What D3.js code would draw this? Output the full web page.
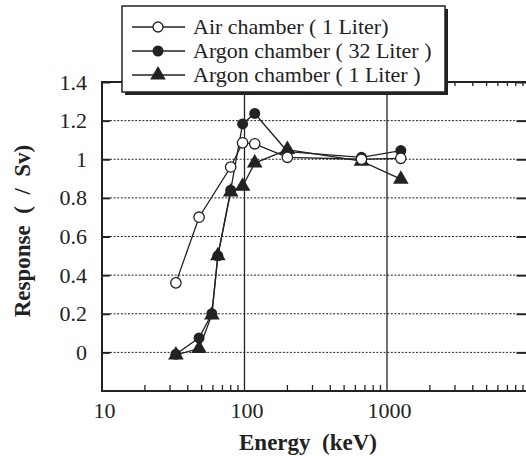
<!DOCTYPE html>
<html><head><meta charset="utf-8">
<script src="https://cdn.jsdelivr.net/npm/d3@7"></script>
</head>
<body style="margin:0">
<svg id="chart" width="526" height="456" font-family="Liberation Serif"></svg>
<script>
// ---- data ----
const seriesNames = ["Air chamber ( 1 Liter)", "Argon chamber ( 32 Liter )", "Argon chamber ( 1 Liter )"];
const energyAir  = [33, 48, 80, 97, 118, 200, 662, 1250];
const respAir    = [0.36, 0.70, 0.96, 1.085, 1.08, 1.01, 1.0, 1.005];
const energyAr32 = [33, 48, 59, 65, 80, 97, 118, 200, 662, 1250];
const respAr32   = [-0.01, 0.075, 0.2, 0.5, 0.84, 1.183, 1.237, 1.04, 1.01, 1.045];
const energyAr1  = [33, 48, 59, 65, 80, 97, 118, 200, 662, 1250];
const respAr1    = [-0.013, 0.02, 0.194, 0.50, 0.83, 0.86, 0.98, 1.05, 0.99, 0.897];
const yTicks = [0, 0.2, 0.4, 0.6, 0.8, 1, 1.2, 1.4];
const yGrid = [0, 0.2, 0.4, 0.6, 0.8, 1, 1.2];
const xLabelTicks = [10, 100, 1000];
const xTitle = "Energy\u00a0\u00a0(keV)";
const yTitle = "Response\u00a0\u00a0(\u00a0\u00a0/\u00a0\u00a0Sv)";

// ---- layout ----
const svg = d3.select("#chart");
svg.append("rect").attr("width",526).attr("height",456).attr("fill","#fff");
const x = d3.scaleLog().domain([10, 10000]).range([102, 529.5]);
const y = d3.scaleLinear().domain([-0.2, 1.4]).range([391, 82]);
const ink = "#222";
const X0 = x.range()[0], X1 = x.range()[1], Y0 = y.range()[0], Y1 = y.range()[1];

function serif(sel, size, bold) {
  sel.style("font-family", "'Liberation Serif'").style("font-size", size + "px").attr("fill", ink);
  if (bold) sel.style("font-weight", "bold");
  return sel;
}

// dotted horizontal grid
svg.append("g").selectAll("line").data(yGrid).join("line")
  .attr("x1", X0+8).attr("x2", X1-13)
  .attr("y1", d=>y(d)).attr("y2", d=>y(d))
  .attr("stroke", ink).attr("stroke-width", 1).attr("stroke-dasharray","2,1.6");

// solid vertical grid at decades
svg.append("g").selectAll("line").data([100,1000]).join("line")
  .attr("x1", d=>x(d)).attr("x2", d=>x(d)).attr("y1", Y1).attr("y2", Y0)
  .attr("stroke", ink).attr("stroke-width", 1.3);

// minor ticks bottom & top
const minor = x.ticks().filter(d => Math.abs(Math.log10(d) - Math.round(Math.log10(d))) > 1e-6);
svg.append("g").selectAll("line").data(minor).join("line")
  .attr("x1", d=>x(d)).attr("x2", d=>x(d)).attr("y1", Y0).attr("y2", Y0-6)
  .attr("stroke", ink).attr("stroke-width", 1.3);
svg.append("g").selectAll("line").data(minor).join("line")
  .attr("x1", d=>x(d)).attr("x2", d=>x(d)).attr("y1", Y1).attr("y2", Y1+4)
  .attr("stroke", ink).attr("stroke-width", 1.3);

// left axis
const gl = svg.append("g").attr("transform", `translate(${X0},0)`)
  .call(d3.axisLeft(y).tickValues(yTicks).tickSize(-8).tickPadding(15)
        .tickFormat(d => d3.format("~g")(d)));
gl.select(".domain").remove();
gl.attr("font-family", "Liberation Serif").attr("font-size", 22);
gl.selectAll(".tick line").attr("stroke", ink).attr("stroke-width", 2);
serif(gl.selectAll(".tick text"), 22, false);

// right axis ticks
const gr = svg.append("g").attr("transform", `translate(${X1},0)`)
  .call(d3.axisRight(y).tickValues(yTicks).tickSize(-13).tickFormat(""));
gr.select(".domain").remove();
gr.selectAll(".tick line").attr("stroke", ink).attr("stroke-width", 2);

// bottom axis labels
const gb = svg.append("g").attr("transform", `translate(0,${Y0})`)
  .call(d3.axisBottom(x).tickValues(xLabelTicks).tickSize(0).tickPadding(11).tickFormat(d3.format("d")));
gb.select(".domain").remove();
gb.attr("font-family", "Liberation Serif").attr("font-size", 22);
serif(gb.selectAll(".tick text"), 22, false).attr("dx", 2);

// frame
svg.append("rect").attr("x", X0).attr("y", Y1).attr("width", X1-X0).attr("height", Y0-Y1)
  .attr("fill","none").attr("stroke", ink).attr("stroke-width", 2);

// series
const line = d3.line().x(d=>x(d[0])).y(d=>y(d[1]));
const sAir  = energyAir.map((e,i)=>[e, respAir[i]]);
const sAr32 = energyAr32.map((e,i)=>[e, respAr32[i]]);
const sAr1  = energyAr1.map((e,i)=>[e, respAr1[i]]);
[sAir, sAr32, sAr1].forEach(s => {
  svg.append("path").datum(s).attr("d", line).attr("fill","none")
    .attr("stroke", ink).attr("stroke-width", 1.3);
});
const tri = d3.symbol().type(d3.symbolTriangle).size(105);
svg.append("g").selectAll("path").data(sAr1).join("path")
  .attr("d", tri).attr("transform", d=>`translate(${x(d[0])},${y(d[1])})`).attr("fill", ink);
svg.append("g").selectAll("circle").data(sAr32).join("circle")
  .attr("cx", d=>x(d[0])).attr("cy", d=>y(d[1])).attr("r", 5.5).attr("fill", ink);
svg.append("g").selectAll("circle").data(sAir).join("circle")
  .attr("cx", d=>x(d[0])).attr("cy", d=>y(d[1])).attr("r", 5.2)
  .attr("fill", "#fff").attr("stroke", ink).attr("stroke-width", 1.3);

// titles
serif(svg.append("text").attr("x", 308).attr("y", 450).attr("text-anchor","middle"), 23, true).text(xTitle);
serif(svg.append("text").attr("transform","translate(30,231) rotate(-90)").attr("text-anchor","middle"), 23, true).text(yTitle);

// legend
const lg = svg.append("g");
lg.append("rect").attr("x", 125).attr("y", 9).attr("width", 323).attr("height", 86).attr("fill", ink);
lg.append("rect").attr("x", 122).attr("y", 6).attr("width", 323).attr("height", 86)
  .attr("fill", "#fff").attr("stroke", ink).attr("stroke-width", 1.5);
const rowsY = [27, 51, 75];
seriesNames.forEach((name, i) => {
  const ry = rowsY[i];
  lg.append("line").attr("x1", 132).attr("x2", 185).attr("y1", ry).attr("y2", ry)
    .attr("stroke", ink).attr("stroke-width", 1.3);
  if (i === 0) lg.append("circle").attr("cx",158).attr("cy",ry).attr("r",5)
      .attr("fill","#fff").attr("stroke",ink).attr("stroke-width",1.3);
  if (i === 1) lg.append("circle").attr("cx",158).attr("cy",ry).attr("r",5.5).attr("fill",ink);
  if (i === 2) lg.append("path").attr("d", tri).attr("transform",`translate(158,${ry})`).attr("fill",ink);
  serif(lg.append("text").attr("x", 193).attr("y", ry).attr("dy","0.33em"), 22, false).text(name);
});
</script>
</body></html>
